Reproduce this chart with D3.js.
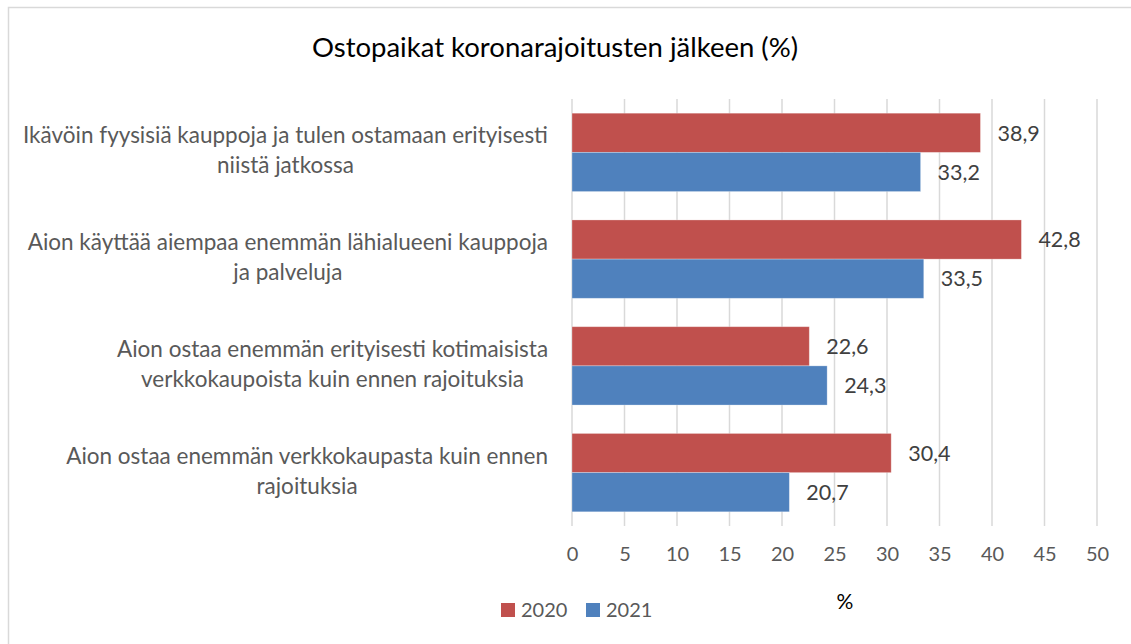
<!DOCTYPE html>
<html>
<head>
<meta charset="utf-8">
<script src="https://cdn.jsdelivr.net/npm/d3@7"></script>
<style>
  body { margin: 0; background: #fff; }
  text { font-family: Lato, "Open Sans", sans-serif; }
</style>
</head>
<body>
<div id="chart"></div>
<script>
const categories = [
  ['Ikävöin fyysisiä kauppoja ja tulen ostamaan erityisesti', 'niistä jatkossa'],
  ['Aion käyttää aiempaa enemmän lähialueeni kauppoja', 'ja palveluja'],
  ['Aion ostaa enemmän erityisesti kotimaisista', 'verkkokaupoista kuin ennen rajoituksia'],
  ['Aion ostaa enemmän verkkokaupasta kuin ennen', 'rajoituksia']
];
const seriesNames = ['2020', '2021'];
const values2020 = [38.9, 42.8, 22.6, 30.4];
const values2021 = [33.2, 33.5, 24.3, 20.7];
const xTicks = [0, 5, 10, 15, 20, 25, 30, 35, 40, 45, 50];
const colors = { '2020': '#c0504d', '2021': '#4f81bd' };

const W = 1131, H = 644;
const svg = d3.select('#chart').append('svg')
  .attr('width', W).attr('height', H);

svg.append('rect').attr('width', W).attr('height', H).attr('fill', '#fff');
// chart frame (right/bottom edges fall outside the picture)
svg.append('rect')
  .attr('x', 8.5).attr('y', 7.5)
  .attr('width', W).attr('height', H)
  .attr('fill', 'none').attr('stroke', '#d9d9d9').attr('stroke-width', 1.5);

const x = d3.scaleLinear().domain([0, 50]).range([572, 1097]);
const keys = d3.range(categories.length);
const y = d3.scaleBand().domain(keys).range([99, 526])
  .paddingInner(0.266).paddingOuter(0.133);
const ySub = d3.scaleBand().domain(seriesNames).range([0, y.bandwidth()]);

// gridlines
svg.append('g')
  .selectAll('line').data(xTicks).join('line')
  .attr('x1', d => x(d)).attr('x2', d => x(d))
  .attr('y1', 99).attr('y2', 526)
  .attr('stroke', '#d9d9d9').attr('stroke-width', 1.5);

// x axis labels
const xAxis = svg.append('g')
  .attr('transform', 'translate(0,526)')
  .call(d3.axisBottom(x).tickValues(xTicks).tickSize(0).tickPadding(21));
xAxis.select('.domain').remove();
xAxis.selectAll('text')
  .attr('font-size', 20).attr('fill', '#595959')
  .style('font-family', 'Lato, sans-serif');

// bars
const rows = keys.map(i => ({ i, vals: [values2020[i], values2021[i]] }));
const grp = svg.append('g').selectAll('g').data(rows).join('g')
  .attr('transform', d => `translate(0,${y(d.i)})`);

grp.selectAll('rect')
  .data(d => seriesNames.map((s, j) => ({ s, v: d.vals[j] })))
  .join('rect')
  .attr('x', x(0))
  .attr('y', d => ySub(d.s))
  .attr('width', d => x(d.v) - x(0))
  .attr('height', ySub.bandwidth())
  .attr('fill', d => colors[d.s])
  .attr('stroke', '#fff').attr('stroke-opacity', 0.35).attr('stroke-width', 0.8);

grp.selectAll('text.val')
  .data(d => seriesNames.map((s, j) => ({ s, v: d.vals[j] })))
  .join('text')
  .attr('class', 'val')
  .attr('x', d => x(d.v) + 17)
  .attr('y', d => ySub(d.s) + ySub.bandwidth() / 2)
  .attr('dy', '0.36em')
  .attr('font-size', 21.5).attr('fill', '#404040')
  .text(d => d3.format('.1f')(d.v).replace('.', ','));

// category labels: block right-aligned near the axis, lines centred in the block
const labelRight = 548;
svg.append('g').selectAll('text').data(rows).join('text')
  .attr('y', d => y(d.i) + y.bandwidth() / 2)
  .attr('text-anchor', 'middle')
  .attr('font-size', 22.5).attr('fill', '#595959')
  .each(function(d) {
    const t = d3.select(this);
    const spans = categories[d.i].map((line, k) =>
      t.append('tspan')
        .attr('dy', k === 0 ? -9 : 30)
        .text(line));
    const maxW = d3.max(spans, s => s.node().getComputedTextLength());
    spans.forEach(s => s.attr('x', labelRight - maxW / 2));
  });

// title
svg.append('text')
  .attr('x', 555).attr('y', 57)
  .attr('text-anchor', 'middle')
  .attr('font-size', 27.5).attr('fill', '#000')
  .text('Ostopaikat koronarajoitusten jälkeen (%)');

// axis title
svg.append('text')
  .attr('x', 845).attr('y', 609)
  .attr('text-anchor', 'middle')
  .attr('font-size', 21).attr('fill', '#000')
  .text('%');

// legend
const legend = svg.append('g').attr('transform', 'translate(501,603)');
const li = legend.selectAll('g').data(seriesNames).join('g')
  .attr('transform', (d, i) => `translate(${i * 85},0)`);
li.append('rect').attr('width', 14).attr('height', 14).attr('fill', d => colors[d]);
li.append('text')
  .attr('x', 20).attr('y', 7).attr('dy', '0.36em')
  .attr('font-size', 20).attr('fill', '#595959')
  .text(d => d);
</script>
</body>
</html>
